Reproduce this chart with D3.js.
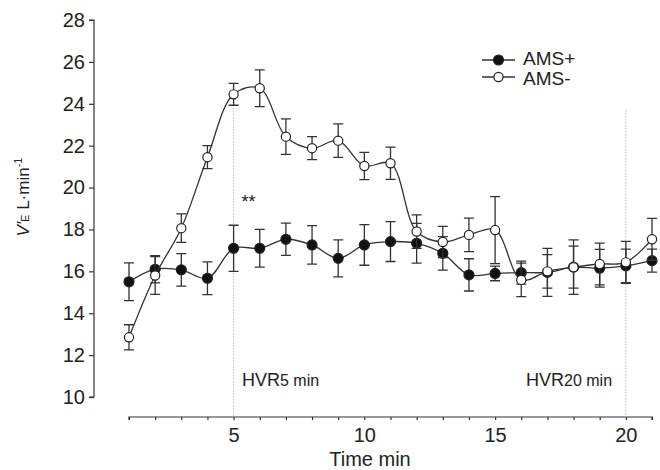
<html>
<head>
<title>VE time course</title>
<script type="text/javascript" src="https://cdn.jsdelivr.net/npm/d3@7"></script>
<style>
  * { margin: 0; padding: 0; }
  body { background: #fff; }
  svg text { font-family: "Liberation Sans", Arial, sans-serif; fill: #222; }
</style>
</head>
<body>
<div id="chart"></div>
<script type="text/javascript">
// time points (min)
var minutes = [1, 2, 3, 4, 5, 6, 7, 8, 9, 10, 11, 12, 13, 14, 15, 16, 17, 18, 19, 20, 21];
// AMS+ mean and error
var amsPos = [15.5, 16.1, 16.07, 15.67, 17.1, 17.1, 17.53, 17.26, 16.62, 17.26, 17.42, 17.34, 16.86, 15.83, 15.9, 15.94, 15.95, 16.2, 16.15, 16.26, 16.51];
var amsPosErr = [0.9, 0.65, 0.78, 0.78, 1.1, 0.9, 0.77, 0.92, 0.88, 0.97, 0.95, 0.95, 0.8, 0.77, 0.35, 0.55, 1.15, 1.3, 0.9, 0.8, 0.55];
// AMS- mean and error
var amsNeg = [12.85, 15.8, 18.06, 21.45, 24.45, 24.74, 22.43, 21.88, 22.24, 21.03, 21.16, 17.9, 17.4, 17.74, 17.97, 15.59, 16.0, 16.2, 16.35, 16.43, 17.53];
var amsNegErr = [0.6, 0.9, 0.68, 0.55, 0.52, 0.88, 0.85, 0.55, 0.8, 0.65, 0.77, 0.8, 0.75, 0.8, 1.6, 0.8, 0.8, 1.0, 1.0, 1.0, 1.0];
var yTicks = [10, 12, 14, 16, 18, 20, 22, 24, 26, 28];
var xTickLabels = [5, 10, 15, 20];
var markers = [5, 20];

var svg = d3.select('#chart').append('svg')
    .attr('width', 660)
    .attr('height', 470);

var x = d3.scaleLinear().domain([1, 21]).range([129, 652]);
var y = d3.scaleLinear().domain([10, 28]).range([397, 20]);
var ink = '#333';

// y axis
var yAxis = svg.append('g')
    .attr('transform', 'translate(94,0)')
    .call(d3.axisLeft(y).tickValues(yTicks).tickSize(5).tickPadding(4));
yAxis.select('.domain').attr('d', 'M-5,' + y(28) + 'H0V' + y(10) + 'H-5');

// x axis
var xAxis = svg.append('g')
    .attr('transform', 'translate(0,417)')
    .call(d3.axisBottom(x).tickValues(minutes).tickSize(3).tickPadding(8)
      .tickFormat(function(d) { return xTickLabels.indexOf(d) >= 0 ? d : ''; }));
xAxis.select('.domain').attr('d', 'M' + x(1) + ',3V0H' + x(21) + 'V3');

svg.selectAll('.tick line, .domain').attr('stroke', ink).attr('stroke-width', 1.2);
svg.selectAll('.tick text').style('font-size', '20px').attr('fill', '#222');

// dotted marker lines
svg.selectAll('line.marker')
    .data(markers)
  .enter().append('line')
    .attr('class', 'marker')
    .attr('x1', function(d) { return x(d); })
    .attr('x2', function(d) { return x(d); })
    .attr('y1', function(d) { return d === 5 ? 108 : 110; })
    .attr('y2', 417)
    .attr('stroke', '#bbb')
    .attr('stroke-width', 1)
    .attr('stroke-dasharray', '1.5,1.5');

// curves
var line = d3.line()
    .x(function(d) { return x(d[0]); })
    .y(function(d) { return y(d[1]); })
    .curve(d3.curveCatmullRom.alpha(0.5));

var drawSeries = function(vals, errs, filled) {
  var pts = minutes.map(function(m, i) { return [m, vals[i], errs[i]]; });
  var g = svg.append('g');
  g.selectAll('line.err')
      .data(pts)
    .enter().append('path')
      .attr('d', function(d) {
        var cx = x(d[0]), t = y(d[1] + d[2]), b = y(d[1] - d[2]);
        return 'M' + (cx - 5) + ',' + t + 'H' + (cx + 5) + 'M' + cx + ',' + t + 'V' + b +
               'M' + (cx - 5) + ',' + b + 'H' + (cx + 5);
      })
      .attr('fill', 'none')
      .attr('stroke', ink)
      .attr('stroke-width', 1.3);
  g.append('path')
      .datum(pts)
      .attr('d', line)
      .attr('fill', 'none')
      .attr('stroke', ink)
      .attr('stroke-width', 1.3);
  g.selectAll('circle')
      .data(pts)
    .enter().append('circle')
      .attr('cx', function(d) { return x(d[0]); })
      .attr('cy', function(d) { return y(d[1]); })
      .attr('r', filled ? 5 : 4.6)
      .attr('fill', filled ? '#111' : '#fff')
      .attr('stroke', '#222')
      .attr('stroke-width', 1.2);
};
drawSeries(amsPos, amsPosErr, true);
drawSeries(amsNeg, amsNegErr, false);

// significance mark
svg.append('text')
    .attr('x', x(5.3))
    .attr('y', 208)
    .style('font-size', '18px')
    .text('**');

// marker labels
var hvr = function(px, sub) {
  var t = svg.append('text').attr('x', px).attr('y', 386).style('font-size', '18px');
  t.append('tspan').text('HVR');
  t.append('tspan').style('font-size', '16px').text(sub);
};
hvr(242, '5 min');
hvr(526, '20 min');

// legend
var legend = [['AMS+', true, 60, 65], ['AMS-', false, 77, 85]];
legend.forEach(function(l) {
  svg.append('line')
      .attr('x1', 482).attr('x2', 515).attr('y1', l[2]).attr('y2', l[2])
      .attr('stroke', ink).attr('stroke-width', 1.3);
  svg.append('circle')
      .attr('cx', 498.5).attr('cy', l[2]).attr('r', l[1] ? 5 : 4.6)
      .attr('fill', l[1] ? '#111' : '#fff')
      .attr('stroke', '#222').attr('stroke-width', 1.2);
  svg.append('text')
      .attr('x', 523).attr('y', l[3])
      .style('font-size', '19px')
      .text(l[0]);
});

// axis titles
svg.append('text')
    .attr('x', 370).attr('y', 466)
    .attr('text-anchor', 'middle')
    .style('font-size', '20px')
    .text('Time min');

var yl = svg.append('text')
    .attr('transform', 'translate(29,197) rotate(-90)')
    .attr('text-anchor', 'middle')
    .style('font-size', '17px');
yl.append('tspan').style('font-style', 'italic').text('V\u2032');
yl.append('tspan').style('font-size', '11px').text('E');
yl.append('tspan').text(' L\u00b7min');
yl.append('tspan').attr('dy', -7).style('font-size', '11px').text('-1');
</script>
</body>
</html>
